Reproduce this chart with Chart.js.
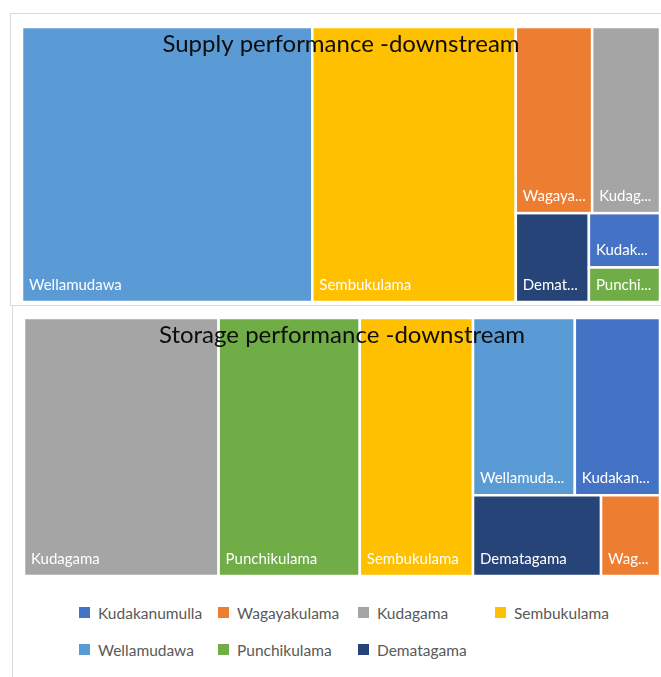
<!DOCTYPE html>
<html>
<head>
<meta charset="utf-8">
<script src="https://cdn.jsdelivr.net/npm/chart.js@4.4.1/dist/chart.umd.min.js"></script>
<style>
  body { margin: 0; background: #fff; width: 661px; height: 677px; overflow: hidden; position: relative; font-family: Lato, sans-serif; }
  .box { position: absolute; border: 1px solid #d9d9d9; }
  canvas { position: absolute; }
  #legend { position: absolute; left: 79px; top: 602px; display: grid; grid-template-columns: 139px 140px 137px 140px; row-gap: 16px; }
  .item { display: flex; align-items: center; height: 21px; color: #595959; font-size: 15.5px; }
  .swatch { width: 11px; height: 11px; margin-right: 8px; flex: none; }
</style>
</head>
<body>
<div class="box" style="left:10px; top:13px; width:670px; height:291px;"></div>
<div class="box" style="left:12px; top:305px; width:670px; height:400px;"></div>
<canvas id="supply" width="638" height="275" style="left:22px; top:27px;"></canvas>
<canvas id="storage" width="636" height="258" style="left:24px; top:318px;"></canvas>
<div id="legend"></div>
<script>
const categories = ['Kudakanumulla', 'Wagayakulama', 'Kudagama', 'Sembukulama', 'Wellamudawa', 'Punchikulama', 'Dematagama'];
const colors = ['#4472C4', '#ED7D31', '#A5A5A5', '#FFC000', '#5B9BD5', '#70AD47', '#264478'];

// share of total (%)
const supplyValues = [2.2, 8.1, 7.2, 31.9, 45.5, 1.4, 3.7];
const storageValues = [9.2, 2.9, 30.6, 17.8, 11.0, 22.2, 6.3];

// how Excel grouped the cells into strips (largest first)
const supplyStrips = [['Wellamudawa'], ['Sembukulama'], ['Wagayakulama', 'Kudagama'], ['Dematagama'], ['Kudakanumulla'], ['Punchikulama']];
const storageStrips = [['Kudagama'], ['Punchikulama'], ['Sembukulama'], ['Wellamudawa', 'Kudakanumulla'], ['Dematagama'], ['Wagayakulama']];

const supplyTitle = 'Supply performance -downstream';
const storageTitle = 'Storage performance -downstream';

// lay strips out in a w x h box: column when the free space is wide, row when it is tall
function layoutStrips(values, strips, w, h) {
    const rects = [];
    let free = { x: 0, y: 0, w: w, h: h };
    let left = values.reduce((a, b) => a + b, 0);
    strips.forEach(strip => {
        const idx = strip.map(name => categories.indexOf(name));
        const sum = idx.reduce((a, i) => a + values[i], 0);
        if (free.w >= free.h) {
            const t = free.w * sum / left;
            let y = free.y;
            idx.forEach(i => {
                const hh = free.h * values[i] / sum;
                rects.push({ i: i, x: free.x, y: y, w: t, h: hh });
                y += hh;
            });
            free = { x: free.x + t, y: free.y, w: free.w - t, h: free.h };
        } else {
            const t = free.h * sum / left;
            let x = free.x;
            idx.forEach(i => {
                const ww = free.w * values[i] / sum;
                rects.push({ i: i, x: x, y: free.y, w: ww, h: t });
                x += ww;
            });
            free = { x: free.x, y: free.y + t, w: free.w, h: free.h - t };
        }
        left -= sum;
    });
    return rects;
}

function fitLabel(ctx, text, maxW) {
    if (ctx.measureText(text).width <= maxW) return text;
    let s = text;
    while (s.length > 1 && ctx.measureText(s + '...').width > maxW) s = s.slice(0, -1);
    return s + '...';
}

const treemapPlugin = {
    id: 'treemap',
    beforeDatasetsDraw(chart) {
        const cfg = chart.options.plugins.treemap;
        const area = chart.chartArea;
        const xs = chart.scales.x, ys = chart.scales.y;
        const W = area.right - area.left, H = area.bottom - area.top;
        const ctx = chart.ctx;
        const rects = layoutStrips(cfg.values, cfg.strips, W, H);
        ctx.save();
        rects.forEach(r => {
            const x0 = xs.getPixelForValue(r.x / W), x1 = xs.getPixelForValue((r.x + r.w) / W);
            const y0 = ys.getPixelForValue(r.y / H), y1 = ys.getPixelForValue((r.y + r.h) / H);
            ctx.fillStyle = colors[r.i];
            ctx.fillRect(x0, y0, x1 - x0, y1 - y0);
            ctx.strokeStyle = '#ffffff';
            ctx.lineWidth = 2.5;
            ctx.strokeRect(x0, y0, x1 - x0, y1 - y0);
            ctx.fillStyle = '#ffffff';
            ctx.font = '15px Lato';
            ctx.textBaseline = 'alphabetic';
            ctx.textAlign = 'left';
            ctx.fillText(fitLabel(ctx, categories[r.i], x1 - x0 - 13), x0 + 7, y1 - 12);
        });
        ctx.restore();
    },
    afterDraw(chart) {
        const cfg = chart.options.plugins.treemap;
        const area = chart.chartArea;
        const ctx = chart.ctx;
        ctx.save();
        ctx.fillStyle = '#0d0d0d';
        ctx.font = '24px Lato';
        ctx.textAlign = 'center';
        ctx.textBaseline = 'alphabetic';
        ctx.fillText(cfg.title, (area.left + area.right) / 2, area.top + 25);
        ctx.restore();
    }
};

function makeTreemap(id, values, strips, title) {
    return new Chart(document.getElementById(id), {
        type: 'scatter',
        data: { datasets: [{ data: [] }] },
        options: {
            responsive: false,
            animation: false,
            layout: { padding: 0 },
            plugins: {
                legend: { display: false },
                tooltip: { enabled: false },
                treemap: { values: values, strips: strips, title: title }
            },
            scales: {
                x: { type: 'linear', min: 0, max: 1, display: false },
                y: { type: 'linear', min: 0, max: 1, reverse: true, display: false }
            }
        },
        plugins: [treemapPlugin]
    });
}

makeTreemap('supply', supplyValues, supplyStrips, supplyTitle);
makeTreemap('storage', storageValues, storageStrips, storageTitle);

const legend = document.getElementById('legend');
categories.forEach((name, i) => {
    const item = document.createElement('div');
    item.className = 'item';
    const sw = document.createElement('span');
    sw.className = 'swatch';
    sw.style.background = colors[i];
    item.appendChild(sw);
    item.appendChild(document.createTextNode(name));
    legend.appendChild(item);
});
</script>
</body>
</html>
